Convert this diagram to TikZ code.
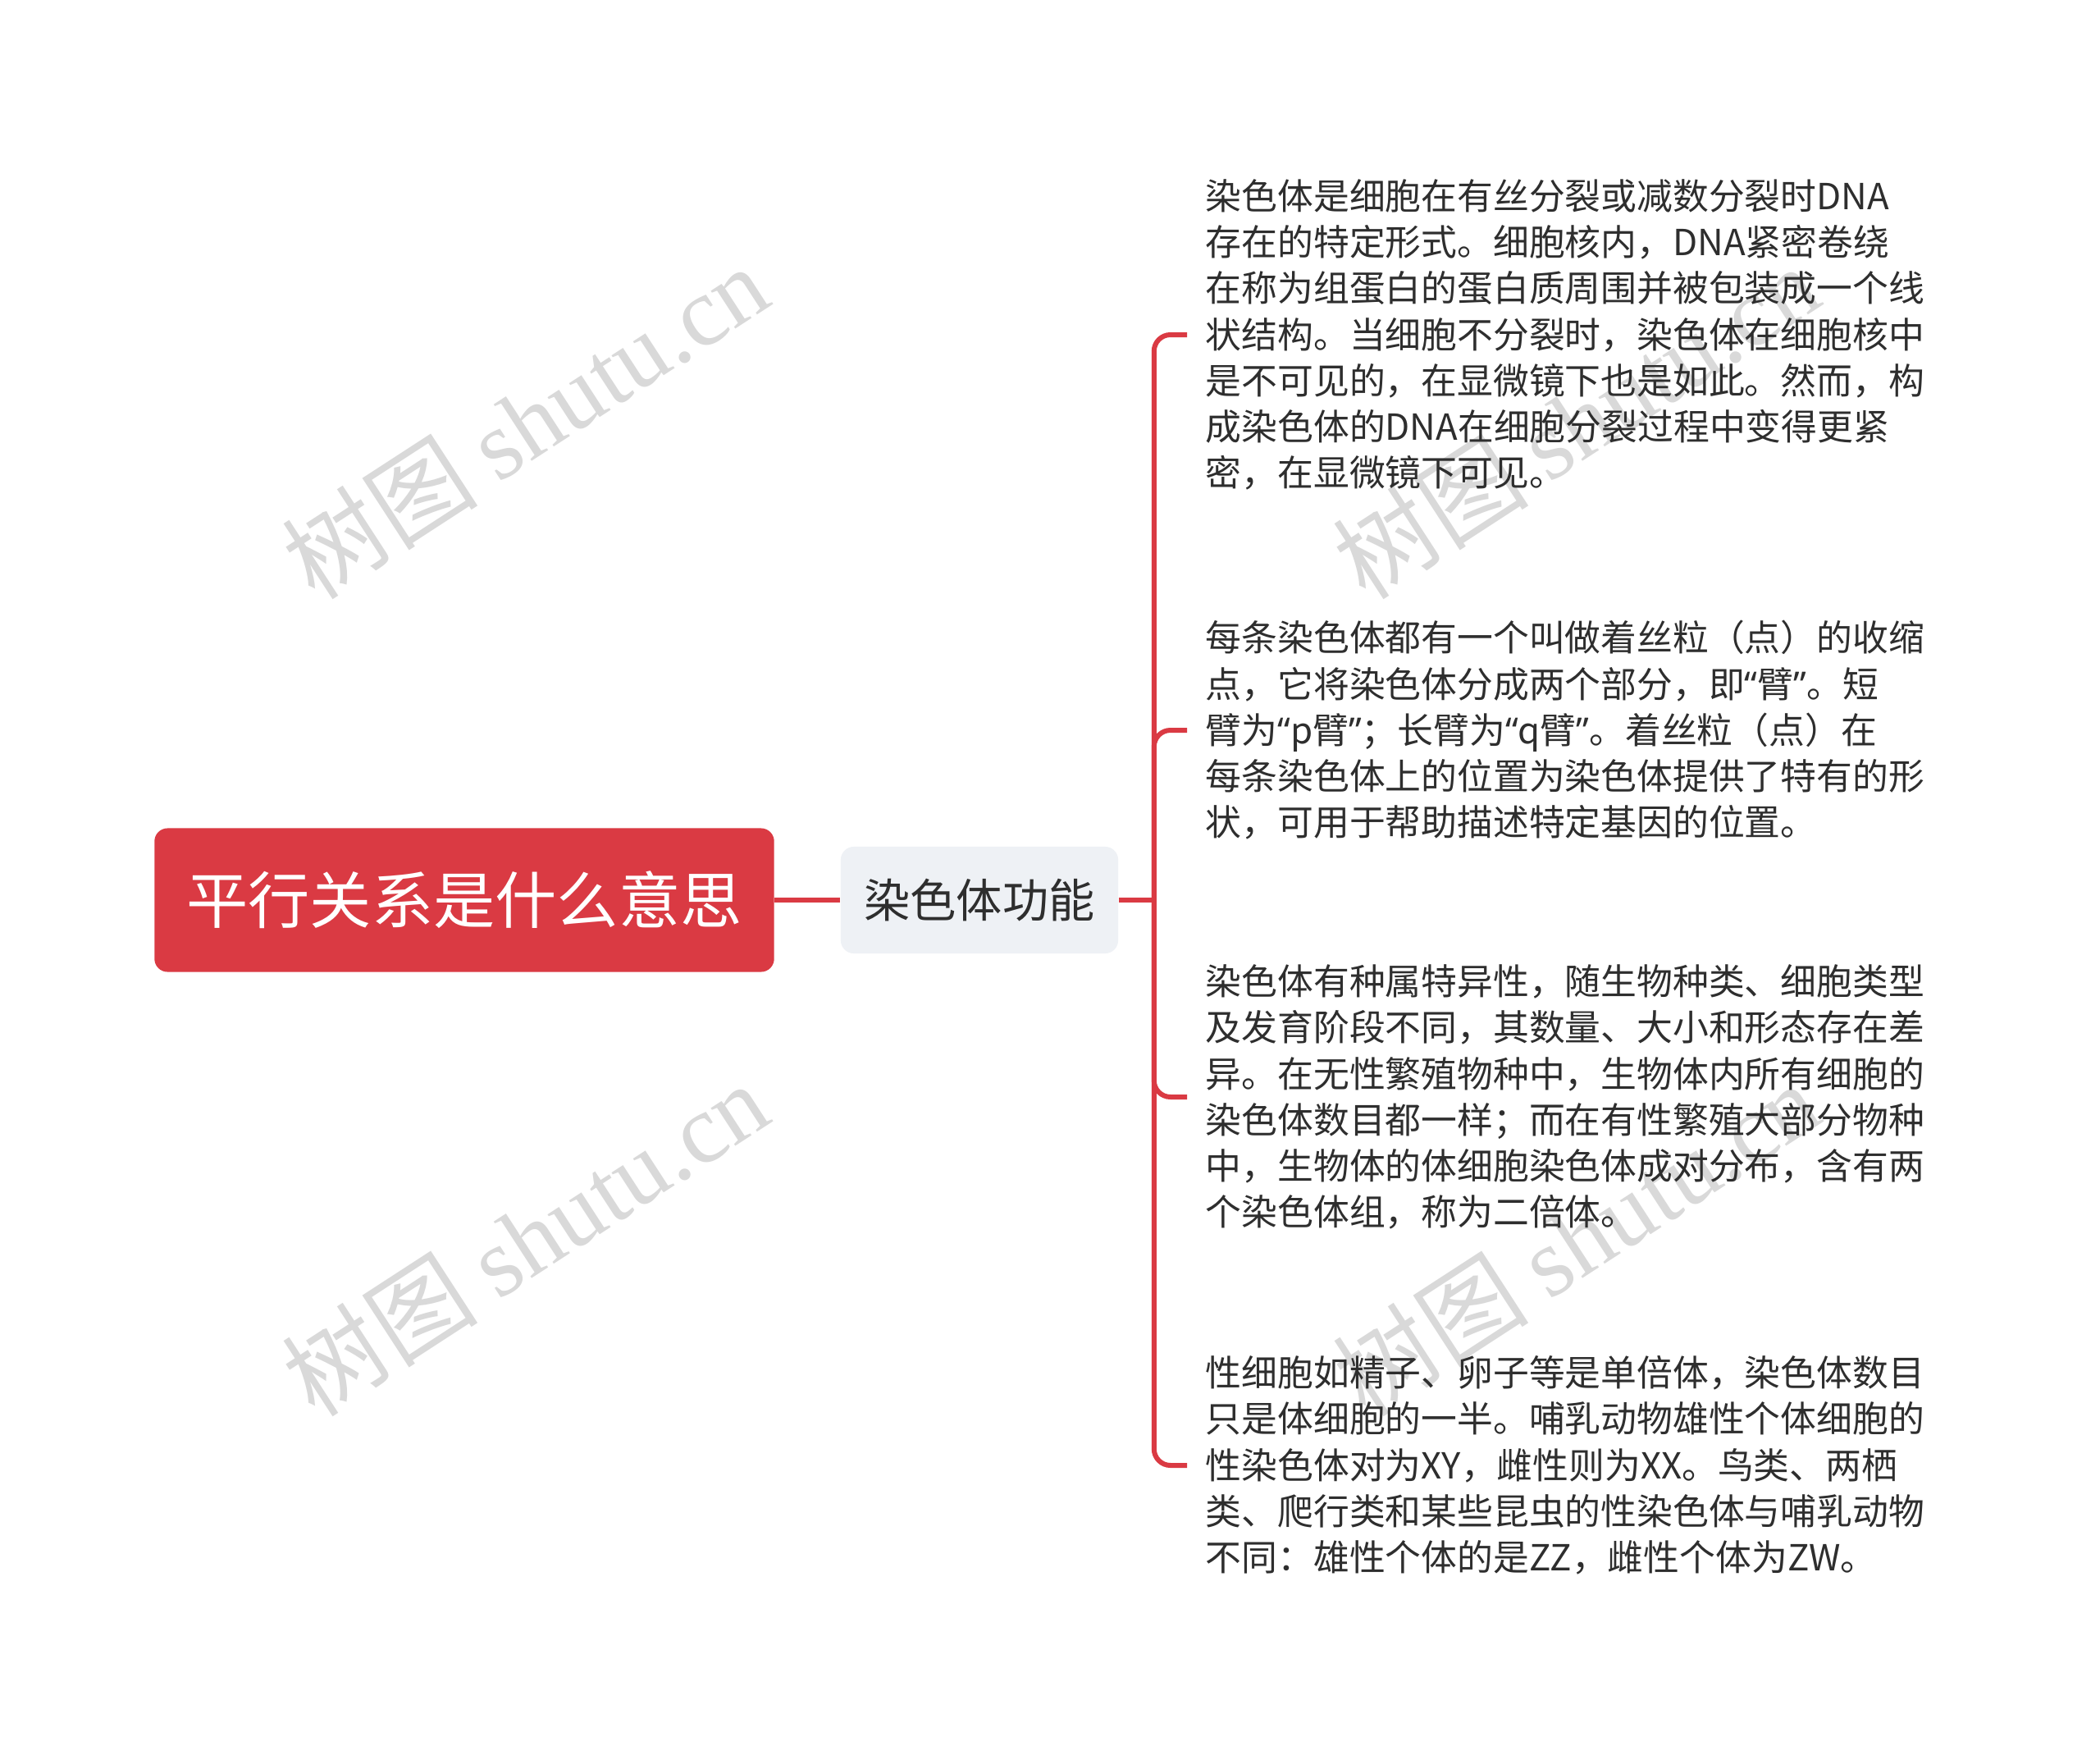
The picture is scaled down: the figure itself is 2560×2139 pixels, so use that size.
\documentclass[tikz,border=0pt]{standalone}
\usepackage{fontspec}
\setmainfont{Noto Sans CJK SC}
\newfontfamily\wmserif{Liberation Serif}
\newfontfamily\latinq{Noto Sans}
\usepackage{tikz}
\usetikzlibrary{positioning, calc}

\definecolor{mapred}{HTML}{DA3A43}
\definecolor{topicgray}{HTML}{EEF1F5}
\definecolor{bodytext}{HTML}{2E2E2E}
\definecolor{wmgray}{HTML}{D9D9D9}

\newcommand{\oq}{{\latinq “}}
\newcommand{\cq}{{\latinq ”}}

\begin{document}
\begin{tikzpicture}[x=0.01cm, y=-0.01cm]
				\tikzstyle{rootbox}=[draw=none, fill=mapred, rounded corners=0.16cm, minimum width=7.55cm, minimum height=1.75cm, inner sep=0, text=white, font=\fontsize{21.4pt}{26pt}\selectfont]
				\tikzstyle{topicbox}=[draw=none, fill=topicgray, rounded corners=0.16cm, minimum width=3.38cm, minimum height=1.30cm, inner sep=0, text=bodytext, font=\fontsize{16pt}{20pt}\selectfont]
				\tikzstyle{detail}=[anchor=west, align=left, inner xsep=0.22cm, inner ysep=0, text=bodytext, font=\fontsize{12.46pt}{16pt}\selectfont]
				\tikzstyle{link}=[draw=mapred, line width=0.06cm]
				\tikzstyle{watermark}=[text=wmgray, rotate=33, font=\fontsize{34pt}{38pt}\selectfont]

				\useasboundingbox (0,0) rectangle (2560,2139);
				\fill[white] (0,0) rectangle (2560,2139);

				% watermarks behind everything
				\node (wm1) at (640,514) [watermark] {树图 {\wmserif shutu.cn}};
				\node (wm2) at (1921,514) [watermark] {树图 {\wmserif shutu.cn}};
				\node (wm3) at (640,1510) [watermark] {树图 {\wmserif shutu.cn}};
				\node (wm4) at (1921,1510) [watermark] {树图 {\wmserif shutu.cn}};

				\node (root) at (566,1097) [rootbox] {平行关系是什么意思};
				\node (topic) at (1194,1097) [topicbox] {染色体功能};
				\draw [link] (root) -- (topic);

				\path (topic.east) ++(43,0) coordinate (bus);
				\draw [link] (topic.east) -- (bus);

				\node (d1) at (1447,408) [detail] {染色体是细胞在有丝分裂或减数分裂时DNA\\存在的特定形式。细胞核内，DNA紧密卷绕\\在称为组蛋白的蛋白质周围并被包装成一个线\\状结构。当细胞不分裂时，染色体在细胞核中\\是不可见的，在显微镜下也是如此。然而，构\\成染色体的DNA在细胞分裂过程中变得更紧\\密，在显微镜下可见。};
				\node (d2) at (1447,890) [detail] {每条染色体都有一个叫做着丝粒（点）的收缩\\点，它将染色体分成两个部分，即\oq 臂\cq 。短\\臂为\oq p臂\cq ；长臂为\oq q臂\cq 。着丝粒（点）在\\每条染色体上的位置为染色体提供了特有的形\\状，可用于帮助描述特定基因的位置。};
				\node (d3) at (1447,1337) [detail] {染色体有种属特异性，随生物种类、细胞类型\\及发育阶段不同，其数量、大小和形态存在差\\异。在无性繁殖物种中，生物体内所有细胞的\\染色体数目都一样；而在有性繁殖大部分物种\\中，生物体的体细胞染色体成对分布，含有两\\个染色体组，称为二倍体。};
				\node (d4) at (1447,1786) [detail] {性细胞如精子、卵子等是单倍体，染色体数目\\只是体细胞的一半。哺乳动物雄性个体细胞的\\性染色体对为XY，雌性则为XX。鸟类、两栖\\类、爬行类和某些昆虫的性染色体与哺乳动物\\不同：雄性个体的是ZZ，雌性个体为ZW。};

				\foreach \d in {d1,d2,d3,d4}
					\draw [link, rounded corners=0.2cm] (bus) |- (\d.west);
\end{tikzpicture}
\end{document}
